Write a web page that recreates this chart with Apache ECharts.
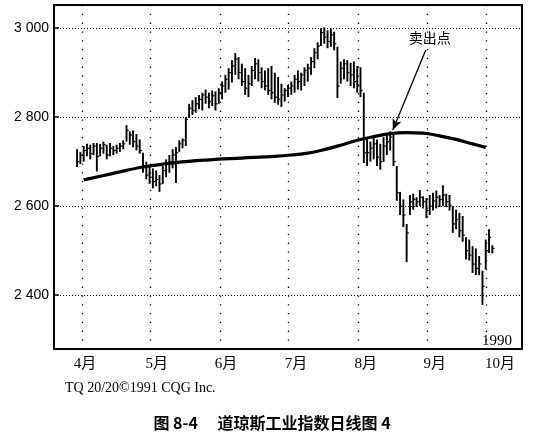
<!DOCTYPE html>
<html>
<head>
<meta charset="utf-8">
<script src="https://cdn.jsdelivr.net/npm/echarts@6/dist/echarts.min.js"></script>
<style>html,body{margin:0;padding:0;background:#fff}#c{width:544px;height:440px}</style>
</head>
<body>
<div id="c"></div>
<script>
// Daily bars (trading-day index 0..126), Dow Jones Industrials, spring–autumn 1990
var high = [2728,2722,2735,2740,2738,2742,2742,2740,2745,2738,2742,2735,2738,2742,2748,2782,2768,2770,2762,2750,
  2720,2700,2690,2685,2680,2670,2690,2705,2715,2728,2733,2748,2752,2800,2830,2838,2845,2850,2855,2862,
  2855,2860,2858,2865,2880,2895,2910,2928,2944,2935,2920,2910,2895,2915,2933,2930,2912,2905,2910,2915,
  2900,2890,2875,2865,2872,2880,2895,2905,2900,2912,2920,2935,2955,2968,3000,3002,2995,3000,2992,2958,
  2925,2930,2928,2922,2925,2915,2912,2855,2750,2745,2760,2750,2740,2755,2760,2768,2760,2690,2632,2615,
  2560,2625,2628,2620,2636,2622,2618,2625,2630,2635,2625,2647,2628,2625,2600,2592,2585,2578,2530,2525,
  2510,2505,2488,2455,2525,2548,2512];
var low = [2688,2695,2700,2712,2705,2715,2678,2712,2718,2705,2712,2715,2718,2722,2728,2745,2738,2732,2725,2718,
  2675,2660,2650,2640,2645,2632,2650,2665,2675,2685,2652,2722,2730,2735,2798,2805,2810,2818,2815,2830,
  2820,2825,2815,2830,2840,2855,2862,2878,2895,2885,2870,2850,2845,2870,2885,2880,2865,2860,2850,2840,
  2832,2828,2823,2835,2845,2850,2855,2862,2860,2870,2880,2895,2910,2930,2960,2965,2955,2958,2950,2843,
  2875,2885,2880,2870,2865,2855,2845,2697,2690,2700,2705,2690,2682,2700,2715,2725,2690,2612,2580,2553,
  2474,2580,2592,2598,2600,2595,2573,2580,2590,2595,2598,2600,2598,2590,2540,2548,2530,2520,2480,2478,
  2450,2445,2445,2378,2458,2495,2494];
var close = [2700,2715,2725,2730,2718,2735,2712,2730,2738,2715,2730,2725,2730,2735,2740,2770,2760,2745,2735,2725,
  2690,2670,2665,2655,2660,2650,2680,2695,2700,2715,2720,2740,2748,2795,2820,2815,2830,2840,2850,2845,
  2835,2848,2830,2855,2870,2885,2900,2915,2930,2900,2880,2865,2875,2905,2920,2900,2880,2870,2860,2855,
  2845,2840,2850,2860,2865,2870,2885,2880,2895,2905,2910,2925,2945,2960,2990,2980,2970,2985,2965,2870,
  2910,2920,2900,2895,2880,2870,2860,2720,2720,2730,2740,2710,2700,2735,2745,2755,2700,2630,2600,2580,
  2540,2610,2615,2610,2620,2610,2590,2600,2612,2620,2615,2625,2610,2602,2560,2570,2545,2535,2500,2490,
  2470,2460,2470,2420,2500,2530,2505];
// Smoothed moving average, sampled at trading-day indices
var maIndex = [2, 10, 20, 30, 40, 50, 60, 65, 70, 75, 80, 85, 90, 95, 100, 105, 110, 115, 120, 124];
var maValue = [2659, 2672, 2688, 2698, 2704, 2708, 2712, 2715, 2719, 2727, 2737, 2748, 2756, 2763, 2765, 2764, 2758, 2750, 2740, 2732];
// Month boundaries (grid lines) on the trading-day axis, and where the month names sit
var monthPos = [1.5, 22.1, 43.3, 64.2, 85.2, 106.1, 124.2];
var monthLabelPos = [2.4, 24.2, 45.2, 66.4, 87.6, 108.5, 128.3];
var monthLabels = ['4月', '5月', '6月', '7月', '8月', '9月', '10月'];
var yTicks = [2400, 2600, 2800, 3000];
// Annotation: sell point
var sellText = '卖出点';
var sellArrowFrom = [105.8, 2951];
var sellArrowTo = [95.8, 2771];
var sellTextAt = [107, 2978];

var bars = high.map(function (h, i) { return [i, h, low[i], close[i]]; });
var ma = maIndex.map(function (x, i) { return [x, maValue[i]]; });

var chart = echarts.init(document.getElementById('c'), null, {renderer: 'canvas'});
chart.setOption({
  animation: false,
  backgroundColor: '#fff',
  grid: {left: 54, right: 22, top: 5, bottom: 91, show: true, borderColor: '#000', borderWidth: 2, backgroundColor: 'transparent'},
  title: [
    {text: '1990', right: 27, top: 329, textStyle: {fontFamily: 'Liberation Serif', fontSize: 15, fontWeight: 'normal', color: '#000'}},
    {text: 'TQ 20/20©1991 CQG Inc.', left: 60, top: 376, textStyle: {fontFamily: 'Liberation Serif', fontSize: 14, fontWeight: 'normal', color: '#000'}},
    {text: '图 8-4　 道琼斯工业指数日线图 4', left: 'center', top: 410, textStyle: {fontFamily: 'Noto Sans CJK SC', fontSize: 16, fontWeight: 'bold', color: '#000'}}
  ],
  xAxis: {
    type: 'value', min: -7, max: 135,
    axisLine: {show: false},
    axisTick: {show: false, customValues: monthPos},
    axisLabel: {
      customValues: monthLabelPos, margin: 8,
      fontFamily: 'Liberation Serif, Noto Sans CJK SC', fontSize: 15, color: '#000',
      formatter: function (v) { var k = monthLabelPos.indexOf(v); return k >= 0 ? monthLabels[k] : ''; }
    },
    splitLine: {show: true, lineStyle: {color: '#000', width: 1.3, type: [1.3, 7.5]}}
  },
  yAxis: {
    type: 'value', min: 2279, max: 3052,
    axisLine: {show: true, onZero: false, lineStyle: {color: '#000', width: 2}},
    axisTick: {show: true, inside: true, length: 5, customValues: yTicks, lineStyle: {color: '#000', width: 1.5}},
    axisLabel: {
      customValues: yTicks, margin: 5,
      fontFamily: 'Liberation Sans', fontSize: 14, color: '#000',
      formatter: function (v) { return String(v).replace(/(\d)(\d{3})$/, '$1 $2'); }
    },
    splitLine: {show: true, lineStyle: {color: '#000', width: 1, type: [1, 2]}}
  },
  series: [
    {
      type: 'custom',
      data: bars,
      encode: {x: 0, y: [1, 2, 3]},
      renderItem: function (params, api) {
        var x = api.value(0);
        var pH = api.coord([x, api.value(1)]);
        var pL = api.coord([x, api.value(2)]);
        var pC = api.coord([x, api.value(3)]);
        return {type: 'group', children: [
          {type: 'line', shape: {x1: pH[0], y1: pH[1], x2: pL[0], y2: pL[1]}, style: {stroke: '#000', lineWidth: 1.9}},
          {type: 'line', shape: {x1: pC[0], y1: pC[1], x2: pC[0] + 2.2, y2: pC[1]}, style: {stroke: '#000', lineWidth: 1.2}}
        ]};
      },
      z: 3
    },
    {
      type: 'line', data: ma, smooth: 0.4, showSymbol: false,
      lineStyle: {color: '#000', width: 3.2}, z: 4,
      markLine: {
        silent: true, symbol: ['none', 'arrow'], symbolSize: [7, 11],
        lineStyle: {color: '#000', width: 1.3, type: 'solid'},
        label: {show: false},
        data: [[{coord: sellArrowFrom}, {coord: sellArrowTo}]]
      },
      markPoint: {
        silent: true, symbol: 'circle', symbolSize: 0,
        label: {show: true, formatter: sellText, color: '#000', fontFamily: 'Noto Sans CJK SC', fontSize: 14, position: 'inside'},
        data: [{coord: sellTextAt}]
      }
    }
  ]
});
</script>
</body>
</html>
